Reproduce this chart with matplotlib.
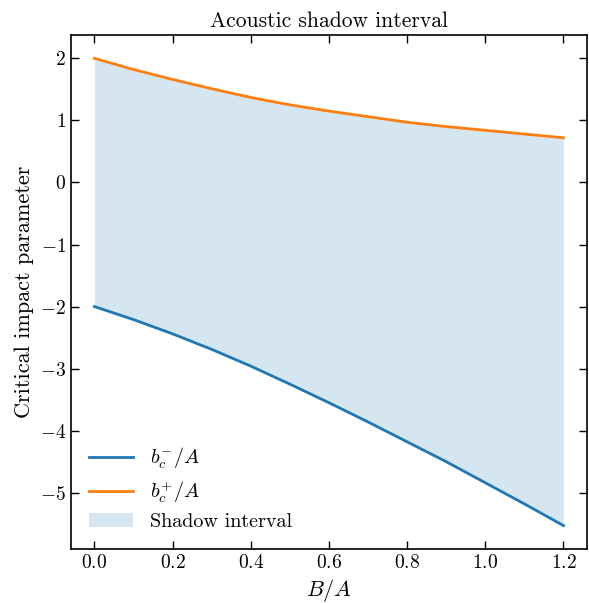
import matplotlib
matplotlib.use("Agg")
import matplotlib.pyplot as plt
import numpy as np

plt.rcParams['font.family'] = 'serif'
plt.rcParams['font.serif'] = ['cmr10']
plt.rcParams['mathtext.fontset'] = 'cm'
plt.rcParams['axes.formatter.use_mathtext'] = True

# values
ratio = [0.0, 0.1, 0.2, 0.3, 0.4, 0.5, 0.6, 0.7, 0.8, 0.9, 1.0, 1.1, 1.2]
b_minus = [-2.00, -2.21, -2.44, -2.69, -2.96, -3.25, -3.55, -3.86, -4.18, -4.50, -4.84, -5.18, -5.53]
b_plus = [2.00, 1.82, 1.66, 1.51, 1.37, 1.25, 1.15, 1.06, 0.97, 0.90, 0.84, 0.78, 0.72]

fig = plt.figure(figsize=(5.89, 6.03), dpi=100)
ax = fig.add_axes([0.1205, 0.0896, 0.876, 0.8524])

ax.plot(ratio, b_minus, color='C0', lw=2, label=r'$b_c^{-}/A$')
ax.plot(ratio, b_plus, color='C1', lw=2, label=r'$b_c^{+}/A$')
ax.fill_between(ratio, b_minus, b_plus, color='C0', alpha=0.18, lw=0, label='Shadow interval')

ax.set_title('Acoustic shadow interval', fontsize=15.5)
ax.set_xlabel(r'$B/A$', fontsize=16)
ax.set_ylabel('Critical impact parameter', fontsize=16)
ax.tick_params(direction='in', top=True, right=True, labelsize=14, length=6, width=1)
for s in ax.spines.values():
    s.set_linewidth(1.2)
ax.legend(loc='lower left', frameon=False, fontsize=14.5, handlelength=2.2, labelspacing=0.4)

fig.savefig('out.png', dpi=100)
